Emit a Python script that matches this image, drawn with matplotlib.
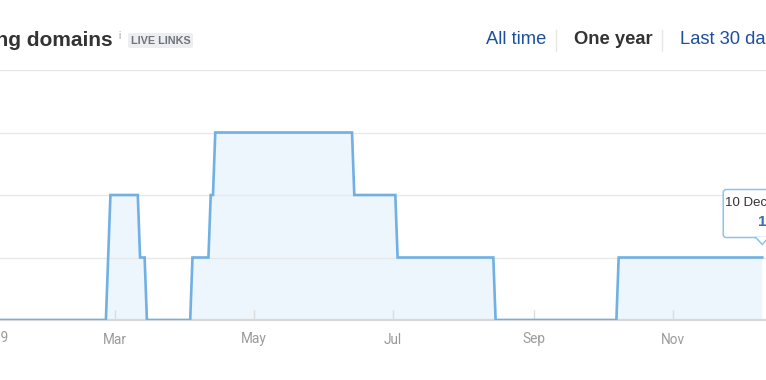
import matplotlib
matplotlib.use("Agg")
import matplotlib.pyplot as plt
import matplotlib.dates as mdates
from matplotlib.patches import FancyBboxPatch, Polygon
import pandas as pd

# ---- data ----
dates = ["2018-12-10", "2019-02-25", "2019-02-27", "2019-03-11", "2019-03-12",
         "2019-03-14", "2019-03-15", "2019-04-03", "2019-04-04", "2019-04-11",
         "2019-04-12", "2019-04-13", "2019-04-14", "2019-06-13", "2019-06-14",
         "2019-07-02", "2019-07-03", "2019-08-14", "2019-08-15", "2019-10-07",
         "2019-10-08", "2019-12-10"]
values = [0, 0, 2, 2, 1, 1, 0, 0, 1, 1, 2, 2, 3, 3, 2, 2, 1, 1, 0, 0, 1, 1]
tick_dates = ["2019-01-01", "2019-03-01", "2019-05-01", "2019-07-01", "2019-09-01", "2019-11-01"]
tick_labels = ["Jan 2019", "Mar", "May", "Jul", "Sep", "Nov"]
title = "Referring domains"
badge = "LIVE LINKS"
periods = ["All time", "One year", "Last 30 days"]
tooltip_date = "10 Dec 2019"
tooltip_value = "1"

# ---- figure ----
W, H = 766, 380
fig = plt.figure(figsize=(W / 100, H / 100), dpi=100)
fig.patch.set_facecolor("white")

def fx(x):
    return x / W

def fy(y):
    return 1 - y / H

tick_font = ["Liberation Sans Narrow", "Roboto", "DejaVu Sans"]
ax = fig.add_axes([0, fy(320), 1, fy(70) - fy(320)])
x = mdates.date2num(pd.to_datetime(dates))
tx = mdates.date2num(pd.to_datetime(tick_dates))
line_c = "#70b0e4"
ax.fill_between(x, values, 0, color="#edf6fd", lw=0, zorder=1)
ax.plot(x, values, color=line_c, lw=1.9, zorder=3, solid_joinstyle="miter")

ax.set_xticks(tx)
ax.set_xticklabels(tick_labels, fontsize=9.8, color="#9a9a9a", family=tick_font)
ax.set_xlim(mdates.date2num(pd.Timestamp("2019-01-09 13:00")),
            mdates.date2num(pd.Timestamp("2019-12-11 15:30")))
ax.set_yticks([1, 2, 3, 4])
ax.set_ylim(0, 4)
ax.yaxis.grid(True, color="#e8e8e8", lw=1, zorder=1.5)
ax.set_axisbelow(False)
ax.tick_params(axis="y", length=0, labelleft=False)
ax.tick_params(axis="x", direction="in", length=7, width=1, color="#dcdcdc", pad=9)
for s in ["top", "left", "right"]:
    ax.spines[s].set_visible(False)
ax.spines["bottom"].set_color("#d8d8d8")
ax.spines["bottom"].set_linewidth(1.6)
ax.set_facecolor("none")

# label of the first tick, which lies left of the visible area
ax.annotate(tick_labels[0], xy=(tx[0], 0), xycoords=("data", "axes fraction"),
            xytext=(0, -7.8), textcoords="offset points", ha="center", va="top",
            fontsize=9.8, color="#9a9a9a", family=tick_font, annotation_clip=False)

# ---- header ----
hfont = ["Liberation Sans", "DejaVu Sans"]
fig.text(fx(113), fy(40), title, ha="right", va="center", fontsize=15,
         fontweight="bold", color="#333333", family=hfont)
fig.text(fx(118), fy(36), "i", ha="left", va="center", fontsize=7,
         color="#a0a0a0", family=hfont)
fig.patches.append(FancyBboxPatch((fx(128), fy(48)), fx(193) - fx(128), fy(33) - fy(48),
                                  boxstyle="round,pad=0,rounding_size=0.004",
                                  transform=fig.transFigure, facecolor="#eceef1",
                                  edgecolor="none", figure=fig))
fig.text(fx(160.5), fy(40.5), badge, ha="center", va="center", fontsize=7.8,
         color="#6f737a", family=hfont, fontweight="bold")
fig.text(fx(486), fy(40), periods[0], ha="left", va="center", fontsize=13.2,
         color="#1e4f9e", family=hfont)
fig.text(fx(574), fy(40), periods[1], ha="left", va="center", fontsize=13.2,
         color="#333333", family=hfont, fontweight="bold")
fig.text(fx(680), fy(40), periods[2], ha="left", va="center", fontsize=13.2,
         color="#1e4f9e", family=hfont)
for sx in (556, 662):
    fig.add_artist(plt.Line2D([fx(sx), fx(sx)], [fy(30), fy(51)], color="#e6e6e6",
                              lw=1, transform=fig.transFigure))

# ---- tooltip ----
fig.canvas.draw()
px, py = ax.transData.transform((x[-1], values[-1]))
tip_y = py + 13
bx0, bx1 = px - 39, px + 39
by0, by1 = tip_y + 7, tip_y + 55
box = FancyBboxPatch((bx0, by0), bx1 - bx0, by1 - by0,
                     boxstyle="round,pad=0,rounding_size=3", transform=None,
                     facecolor="white", edgecolor="#8dc3ea", lw=1.1, zorder=10)
fig.patches.append(box)
tri = Polygon([[px - 7, by0 + 0.6], [px, tip_y], [px + 7, by0 + 0.6]], closed=False,
              transform=None, facecolor="white", edgecolor="#8dc3ea", lw=1.1, zorder=11)
fig.patches.append(tri)
fig.text(px / W, (by1 - 14) / H, tooltip_date, ha="center", va="center", fontsize=9.5,
         color="#333333", family=hfont, zorder=12)
fig.text(px / W, (by1 - 32) / H, tooltip_value, ha="center", va="center", fontsize=11,
         color="#3a6db4", family=hfont, fontweight="bold", zorder=12)

fig.savefig("out.png", dpi=100)
